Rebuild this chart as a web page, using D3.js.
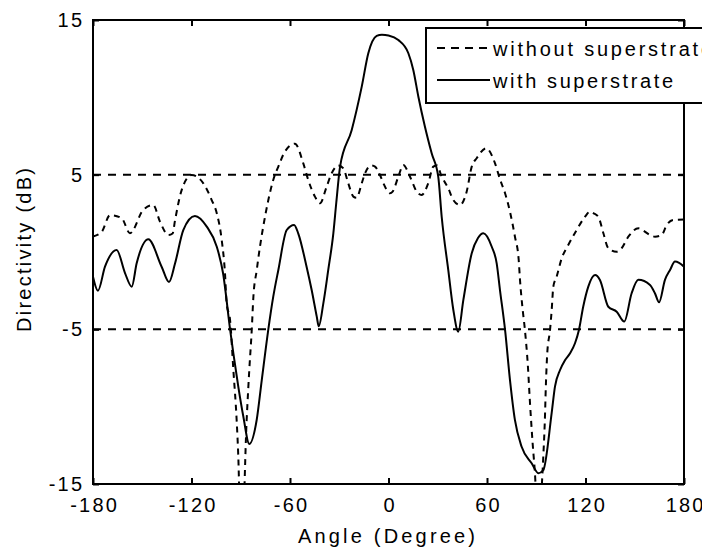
<!DOCTYPE html>
<html>
<head>
<meta charset="utf-8">
<script src="https://cdn.jsdelivr.net/npm/d3@7"></script>
<style>
  body { margin: 0; background: #fff; }
  svg text { font-family: "Liberation Sans", Arial, sans-serif; fill: #000; }
</style>
</head>
<body>
<div id="chart"></div>
<script>
// with superstrate (solid)
const withAngle = [-180, -177, -172.7, -165.6, -160.5, -156.4, -153.4, -146.3, -138.2, -133.7, -130, -125, -117.9, -110.7, -104.6,
  -100.8, -96.5, -94.5, -91.5, -88.4, -84.8, -80.3, -77.2, -73.2, -70.2, -67.1, -62, -57.5, -55, -49.9, -46.8, -43.7, -42.5,
  -39.7, -36.7, -33.6, -31.8, -29.5, -22.4, -16.3, -12.3, -7.2, -4, 0, 6, 12.1, 15.1, 18.2, 22.2, 26.3, 30.3, 32.4, 36.4,
  39.5, 42.5, 45.6, 50.7, 54.5, 57.8, 62.9, 65.9, 67.9, 71, 74, 77, 81.1, 87.2, 91.3, 94.3, 99.4, 101.4, 104.5, 107.5,
  110.6, 113.6, 116, 118.6, 121.7, 125.8, 128.8, 133.9, 139, 143.6, 148.1, 152.2, 159.3, 162.3, 164.8, 168.4, 171.5,
  174.5, 177, 180];
const withDb = [-1.6, -2.5, -0.95, 0.13, -1.36, -2.24, -0.73, 0.82, -0.95, -1.94, -0.73, 1.42, 2.33, 1.64, 0.34,
  -1.36, -5.0, -6.55, -8.7, -10.65, -12.41, -10.86, -8.28, -5.0, -2.89, -1.16, 1.42, 1.75, 1.21, -0.95, -2.46, -4.18, -4.8,
  -3.32, -1.16, 1.21, 3.2, 5.52, 7.89, 10.69, 12.85, 13.97, 14.05, 14.0, 13.7, 12.85, 11.77, 10.04, 8.1, 6.38, 4.87, 2.28, -1.16,
  -3.75, -5.15, -3.1, -0.08, 0.9, 1.21, 0.34, -0.73, -2.46, -5.04, -8.28, -10.86, -12.59, -13.66, -14.3, -14.1, -10.4, -8.7, -7.63, -7.0,
  -6.55, -5.9, -5.04, -3.54, -2.24, -1.49, -1.81, -3.54, -3.86, -4.5, -2.67, -1.8, -2.13, -2.67, -3.25, -1.8, -1.16,
  -0.62, -0.7, -0.95];

// without superstrate (dashed)
const withoutAngle = [-180, -174.7, -169.6, -162.5, -157.5, -149.4, -143.3, -139.2, -134.1, -131.5, -130, -126, -119.9, -112.8,
  -107.7, -104.6, -101.6, -99.6, -98.6, -96.5, -94.5, -92.5, -91.5, -89.7, -86.4, -84.8, -83.3, -82.3, -80.3, -78.3, -76.3,
  -73.2, -70.2, -67.1, -63.1, -57, -51.9, -48.9, -44.8, -41.7, -37.7, -34.6, -30.5, -27.5, -24.5, -21.4, -19.5, -16.3, -14.3,
  -10.5, -8.2, -5.2, -3.1, 0.9, 2.5, 6, 9, 13.1, 17.2, 20.2, 24.2, 27.3, 29.5, 32.4, 36.4, 39.5, 43.5, 47.6, 50.7, 53.7,
  59.5, 64.9, 67.9, 71, 74, 77, 79.3, 80.1, 81.5, 83.1, 84.8, 86.2, 87.8, 89.2, 91.5, 93.3, 94.3, 95.2, 95.9, 96.7, 98.4,
  99.4, 100.4, 102.4, 105.5, 109.5, 114.6, 119.7, 122.7, 125, 127.8, 130.9, 133.9, 139, 142, 146.1, 152.2, 155, 159.3,
  162.3, 166.4, 169.5, 173.5, 180];
const withoutDb = [1.0, 1.3, 2.39, 2.18, 1.21, 2.72, 3.04, 1.96, 1.1, 1.2, 2.07, 4.0, 4.98, 4.44,
  3.36, 2.5, 0.78, -1.38, -3.32, -4.4, -7.63, -10.86, -13.2, -20, -10.86, -7.63, -5.04, -2.89, -1.2, 0.34, 1.64,
  3.36, 4.66, 5.52, 6.49, 7.0, 5.73, 4.66, 3.58, 3.15, 4.22, 5.09, 5.6, 5.41, 4.44, 3.58, 3.5, 4.44, 5.09,
  5.6, 5.52, 4.98, 4.44, 3.8, 3.9, 4.87, 5.63, 4.87, 3.9, 3.69, 4.44, 5.52, 5.6, 4.87, 4.12, 3.36, 3.04, 3.9, 5.52, 6.06,
  6.7, 5.73, 4.7, 3.8, 2.6, 1.0, -0.5, -1.8, -3.5, -5.04, -7.2, -9.78, -12.37, -14.3, -19, -15.3, -13.2, -11, -8.5, -6.55, -5.04,
  -3.75, -2.24, -1.6, -0.41, 0.45, 1.42, 2.28, 2.61, 2.5, 2.28, 1.21, 0.24, 0.02, 0.24, 0.99, 1.53, 1.4, 1.1,
  0.99, 1.1, 1.75, 2.07, 2.1];

const xTicks = [-180, -120, -60, 0, 60, 120, 180];
const yTicks = [-15, -5, 5, 15];
const gridValues = [-5, 5];
const legendLabels = ["without superstrate", "with superstrate"];
const xLabel = "Angle (Degree)";
const yLabel = "Directivity (dB)";

const width = 702, height = 551;
const margin = { top: 20, right: 18, bottom: 67, left: 93 };
const w = width - margin.left - margin.right;
const h = height - margin.top - margin.bottom;

const svg = d3.select("#chart").append("svg")
  .attr("width", width)
  .attr("height", height);

const g = svg.append("g").attr("transform", `translate(${margin.left},${margin.top})`);

const x = d3.scaleLinear().domain([-180, 180]).range([0, w]);
const y = d3.scaleLinear().domain([-15, 15]).range([h, 0]);

// plain hyphen minus like the original, not the unicode one
const fmt = d => String(d);

// stretch text a little, the original font is wide and spaced
function spread(sel, ls) {
  sel.each(function () {
    const n = this.textContent.length;
    const len = this.getComputedTextLength();
    d3.select(this).attr("textLength", len + (n - 1) * ls).attr("lengthAdjust", "spacing");
  });
}

svg.append("clipPath").attr("id", "plot-clip")
  .append("rect").attr("width", w).attr("height", h);

// horizontal grid lines
g.append("g").selectAll("line")
  .data(gridValues)
  .enter().append("line")
  .attr("x1", 0).attr("x2", w)
  .attr("y1", d => y(d)).attr("y2", d => y(d))
  .attr("stroke", "#000")
  .attr("stroke-width", 2)
  .attr("stroke-dasharray", "8,7");

// axes (ticks point inward)
const xAxis = g.append("g").attr("transform", `translate(0,${h})`)
  .call(d3.axisBottom(x).tickValues(xTicks).tickFormat(fmt).tickSizeInner(-6).tickSizeOuter(0).tickPadding(14));
const yAxis = g.append("g")
  .call(d3.axisLeft(y).tickValues(yTicks).tickFormat(fmt).tickSizeInner(-6).tickSizeOuter(0).tickPadding(11));
g.append("g")
  .call(d3.axisTop(x).tickValues(xTicks).tickSizeInner(-6).tickSizeOuter(0).tickFormat(""));
g.append("g").attr("transform", `translate(${w},0)`)
  .call(d3.axisRight(y).tickValues(yTicks).tickSizeInner(-6).tickSizeOuter(0).tickFormat(""));

g.selectAll(".domain").remove();
g.selectAll(".tick line").attr("stroke", "#000").attr("stroke-width", 2);
g.selectAll(".tick text").attr("font-size", 20).attr("font-family", null);
xAxis.selectAll(".tick text").attr("dy", "0.7em");
spread(xAxis.selectAll(".tick text"), 2.2);
spread(yAxis.selectAll(".tick text"), 2.2);

// curves
const line = d3.line()
  .x(d => x(d[0]))
  .y(d => y(d[1]))
  .curve(d3.curveMonotoneX);

const plot = g.append("g").attr("clip-path", "url(#plot-clip)");

plot.append("path")
  .datum(d3.zip(withoutAngle, withoutDb))
  .attr("fill", "none")
  .attr("stroke", "#000")
  .attr("stroke-width", 2)
  .attr("stroke-dasharray", "6,5")
  .attr("d", line);

plot.append("path")
  .datum(d3.zip(withAngle, withDb))
  .attr("fill", "none")
  .attr("stroke", "#000")
  .attr("stroke-width", 2)
  .attr("d", line);

// box
g.append("rect")
  .attr("width", w).attr("height", h)
  .attr("fill", "none")
  .attr("stroke", "#000")
  .attr("stroke-width", 2);

// axis labels
svg.append("text")
  .attr("x", 386.5).attr("y", 543)
  .attr("text-anchor", "middle")
  .attr("font-size", 20)
  .attr("textLength", 177).attr("lengthAdjust", "spacing")
  .text(xLabel);

svg.append("text")
  .attr("transform", "translate(31,250) rotate(-90)")
  .attr("text-anchor", "middle")
  .attr("font-size", 20)
  .attr("textLength", 164).attr("lengthAdjust", "spacing")
  .text(yLabel);

// legend (runs past the right edge, as in the original)
const legend = svg.append("g");
legend.append("rect")
  .attr("x", 426).attr("y", 28)
  .attr("width", 300).attr("height", 75)
  .attr("fill", "#fff")
  .attr("stroke", "#000")
  .attr("stroke-width", 2);

const rows = [{ y: 48, dash: "8,6" }, { y: 80, dash: null }];
rows.forEach((r, i) => {
  legend.append("line")
    .attr("x1", 437).attr("x2", 490)
    .attr("y1", r.y).attr("y2", r.y)
    .attr("stroke", "#000")
    .attr("stroke-width", 2)
    .attr("stroke-dasharray", r.dash);
  legend.append("text")
    .attr("x", 493).attr("y", r.y + 8)
    .attr("font-size", 20)
    .attr("textLength", i === 0 ? 219 : 180).attr("lengthAdjust", "spacing")
    .text(legendLabels[i]);
});
</script>
</body>
</html>
